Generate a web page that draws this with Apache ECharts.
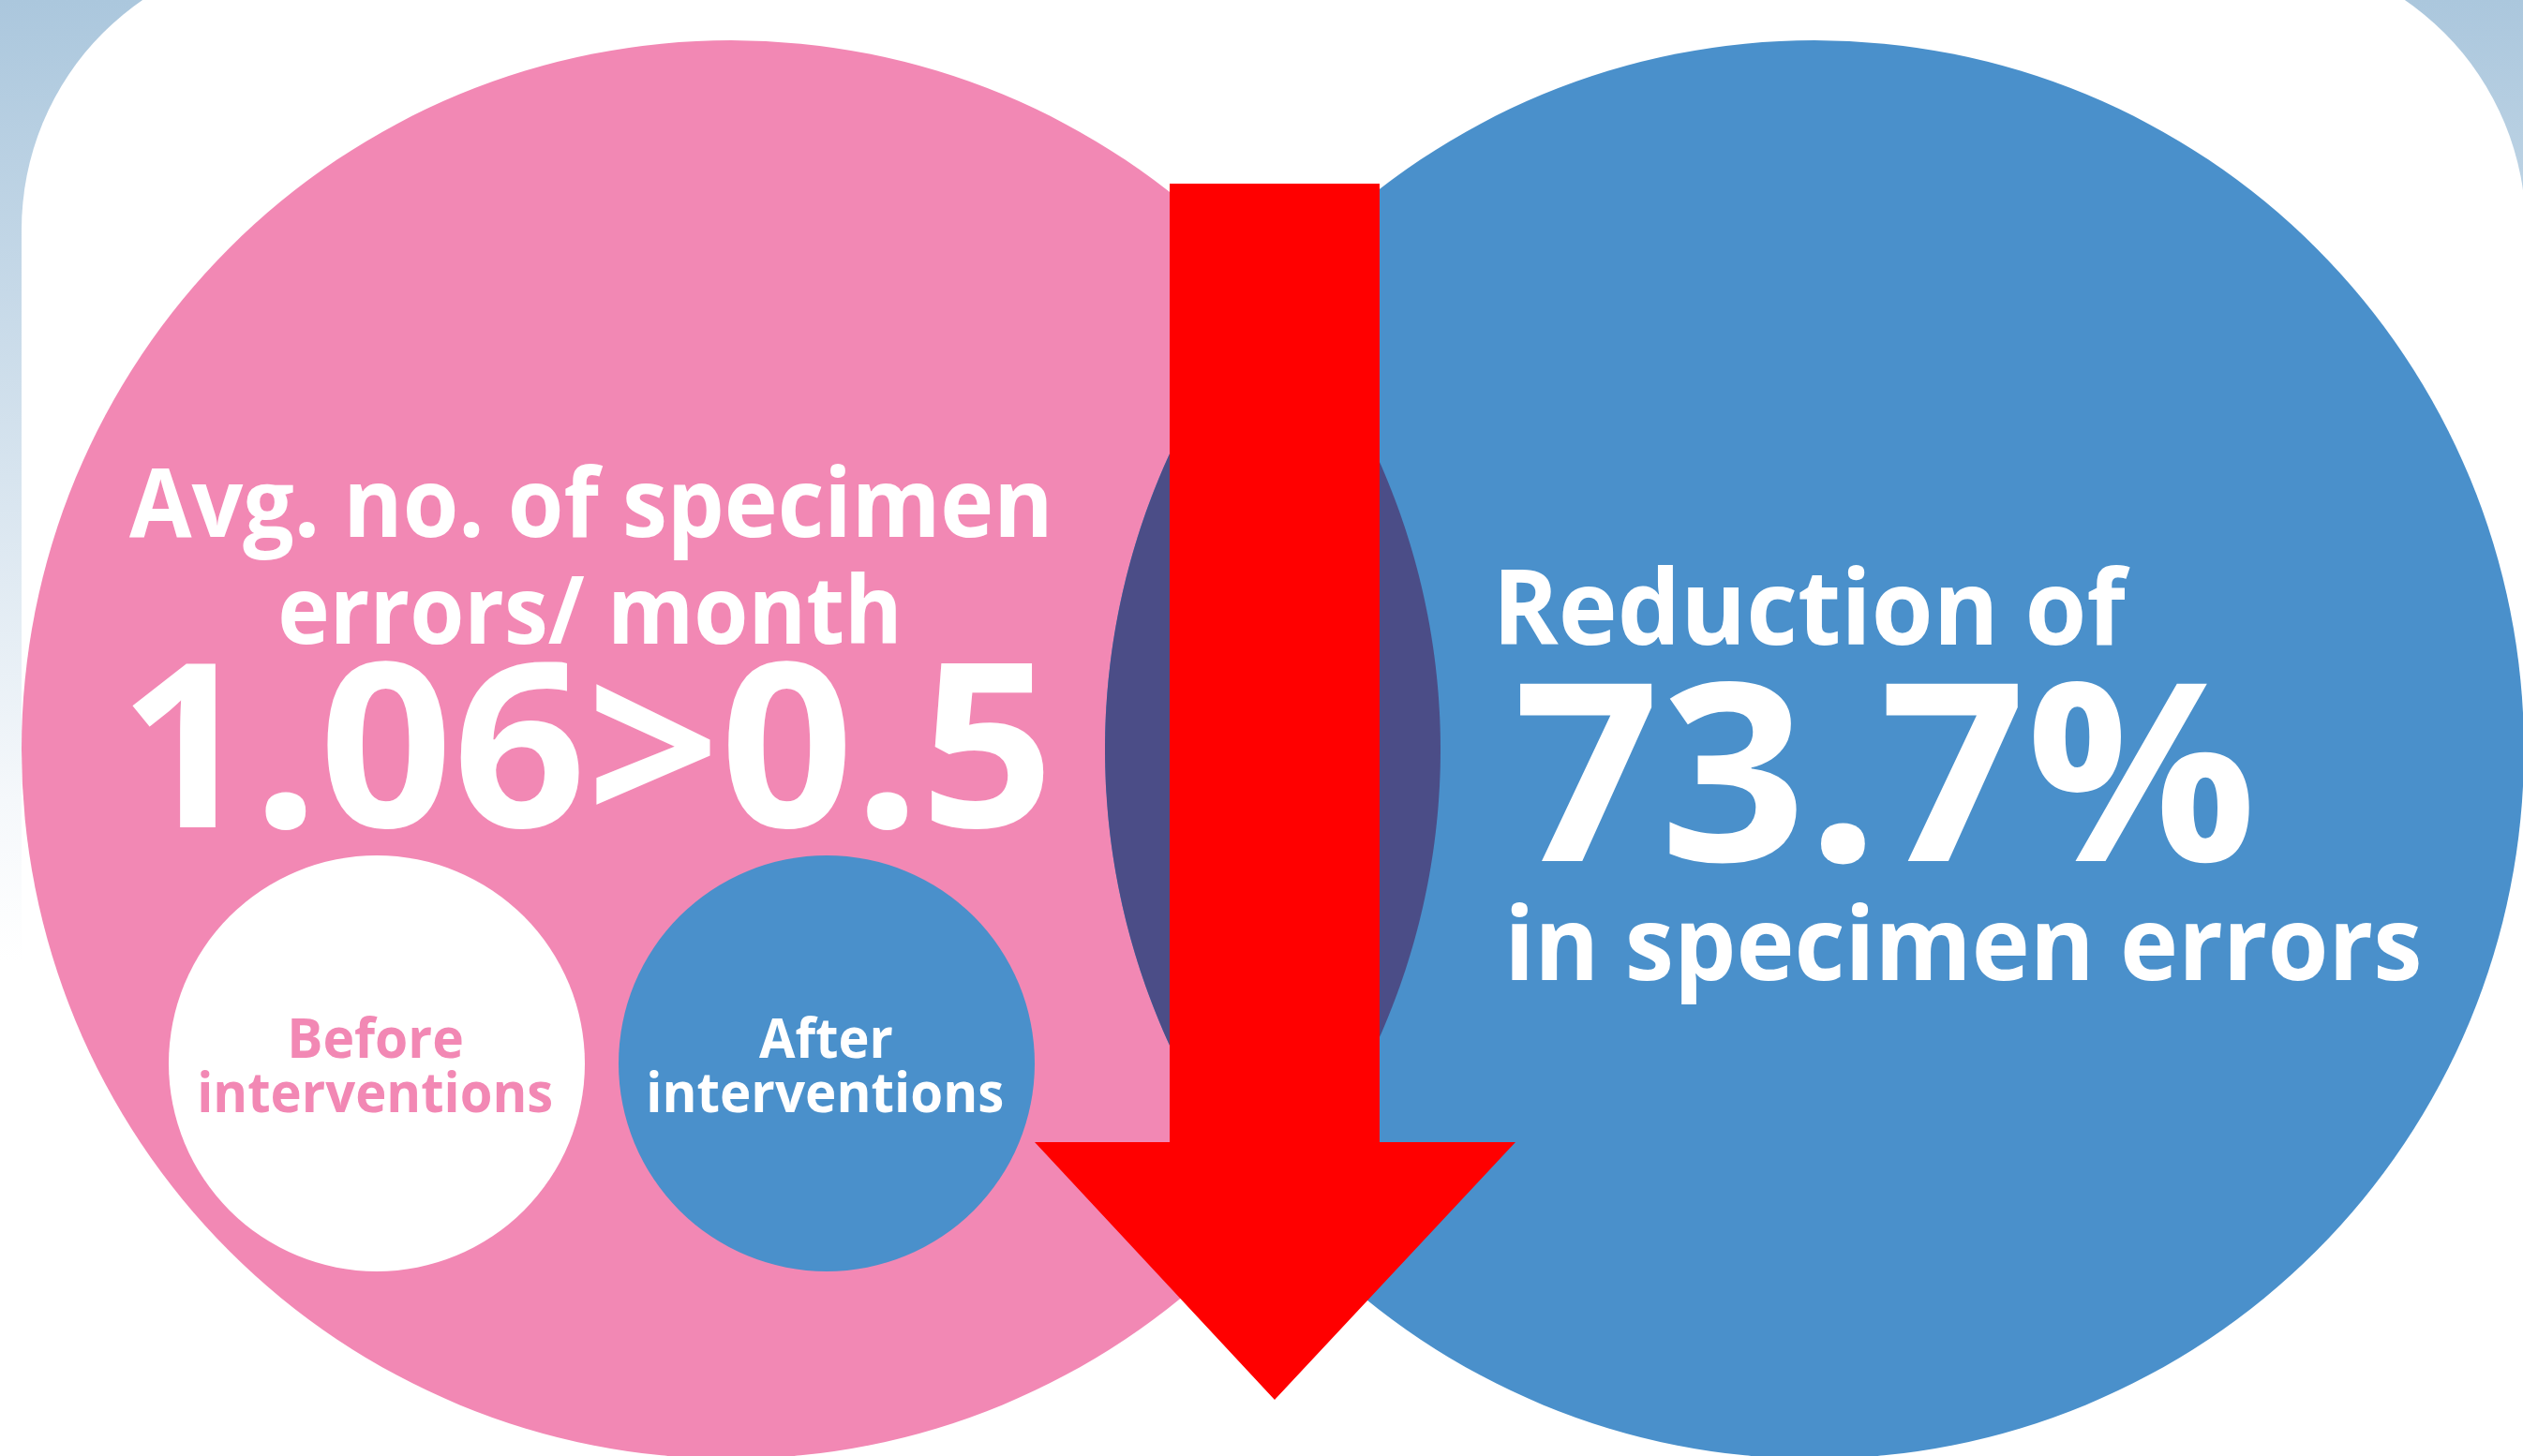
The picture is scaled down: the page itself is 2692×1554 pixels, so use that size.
<!DOCTYPE html>
<html>
<head>
<meta charset="utf-8">
<script src="https://cdn.jsdelivr.net/npm/echarts/dist/echarts.min.js"></script>
<style>
html,body{margin:0;padding:0;background:#ffffff;overflow:hidden}
#main{width:2692px;height:1554px}
</style>
</head>
<body>
<div id="main"></div>
<script>
// ---- data ----
const errorsPerMonth = [1.06, 0.5];                 // before, after
const phaseNames = ['Before', 'After'];
const phaseSuffix = ['interventions', 'interventions'];
const leftTitleLines = ['Avg. no. of specimen', 'errors/ month'];
const reductionPercent = [73.7];
const rightTitleLines = ['Reduction of', 'in specimen errors'];

// ---- styles ----
const PINK = '#f288b4';
const BLUE = '#4a90cb';
const LENS = '#4b4d87';
const RED = '#ff0000';
const FONT = 'Open Sans';

const W = 2692, H = 1554;
const chart = echarts.init(document.getElementById('main'), null, {renderer: 'canvas', width: W, height: H});

// text measuring helpers
const mctx = document.createElement('canvas').getContext('2d');
function setFont(size) {
  mctx.font = 'bold ' + size + 'px "' + FONT + '"';
  mctx.textBaseline = 'middle';
  mctx.textAlign = 'left';
}
function textEl(text, size, color, inkLeft, inkRight, baseline) {
  setFont(size);
  const m = mctx.measureText(text);
  const inkW = m.actualBoundingBoxLeft + m.actualBoundingBoxRight;
  const sx = (inkRight - inkLeft) / inkW;
  const off = mctx.measureText('H').actualBoundingBoxDescent;
  return {
    type: 'text',
    x: inkLeft + m.actualBoundingBoxLeft * sx,
    y: baseline - off,
    scaleX: sx,
    z: 20,
    style: {
      text: text, fill: color,
      fontSize: size, fontWeight: 'bold', fontFamily: FONT,
      align: 'left', verticalAlign: 'middle',
      textAlign: 'left', textVerticalAlign: 'middle'
    }
  };
}

// geometry of the two big circles
const bigR = 757, bigCy = 800;
const c1x = 780, c2x = 1936;
function lensPoints() {
  const d = c2x - c1x;
  const a = Math.acos((d / 2) / bigR);
  const pts = [];
  const n = 120;
  for (let i = 0; i <= n; i++) {           // left arc (of right circle)
    const t = Math.PI - a + (2 * a) * i / n;
    pts.push([c2x + bigR * Math.cos(t), bigCy + bigR * Math.sin(t)]);
  }
  for (let i = 0; i <= n; i++) {           // right arc (of left circle)
    const t = -a + (2 * a) * i / n;
    pts.push([c1x + bigR * Math.cos(t), bigCy + bigR * Math.sin(t)]);
  }
  return pts;
}

const bigNumber = errorsPerMonth[0].toFixed(2) + '>' + errorsPerMonth[1];
const pctText = reductionPercent[0] + '%';

const smallCx = [402, 882], smallCy = 1135, smallR = 222;
const smallFill = ['#ffffff', BLUE];
const smallText = [PINK, '#ffffff'];
const nameInk = [[311, 493], [810, 952]];
const suffixInk = [[214, 589], [693, 1070]];

const elements = [
  {type: 'rect', z: 0, shape: {x: 0, y: 0, width: W, height: H},
    style: {fill: {type: 'linear', x: 0, y: 0, x2: 0, y2: 1, colorStops: [
      {offset: 0, color: '#abc7dd'}, {offset: 0.55, color: '#f5f8fb'}, {offset: 0.66, color: '#ffffff'}, {offset: 1, color: '#ffffff'}]}}},
  {type: 'rect', z: 1, shape: {x: 23, y: -52, width: 2672, height: 1800, r: 297}, style: {fill: '#ffffff'}},
  {type: 'circle', z: 2, shape: {cx: c1x, cy: bigCy, r: bigR}, style: {fill: PINK}},
  {type: 'circle', z: 3, shape: {cx: c2x, cy: bigCy, r: bigR}, style: {fill: BLUE}},
  {type: 'polygon', z: 4, shape: {points: lensPoints()}, style: {fill: LENS}},
  {type: 'polygon', z: 30, shape: {points: [[1248, 196], [1472, 196], [1472, 1219], [1617, 1219], [1360, 1494], [1104, 1219], [1248, 1219]]}, style: {fill: RED}}
];

for (let i = 0; i < 2; i++) {
  elements.push({type: 'circle', z: 5, shape: {cx: smallCx[i], cy: smallCy, r: smallR}, style: {fill: smallFill[i]}});
  elements.push(textEl(phaseNames[i], 59, smallText[i], nameInk[i][0], nameInk[i][1], 1129));
  elements.push(textEl(phaseSuffix[i], 59, smallText[i], suffixInk[i][0], suffixInk[i][1], 1187));
}

elements.push(textEl(leftTitleLines[0], 102, '#ffffff', 138, 1117, 573));
elements.push(textEl(leftTitleLines[1], 101, '#ffffff', 300, 956, 687));
elements.push(textEl(bigNumber, 244, '#ffffff', 141, 1114, 883));
elements.push(textEl(rightTitleLines[0], 112, '#ffffff', 1602, 2273, 688));
elements.push(textEl(pctText, 265, '#ffffff', 1619, 2401, 919));
elements.push(textEl(rightTitleLines[1], 110, '#ffffff', 1612, 2581, 1046));

chart.setOption({
  animation: false,
  backgroundColor: '#ffffff',
  graphic: {elements: elements}
});
</script>
</body>
</html>
